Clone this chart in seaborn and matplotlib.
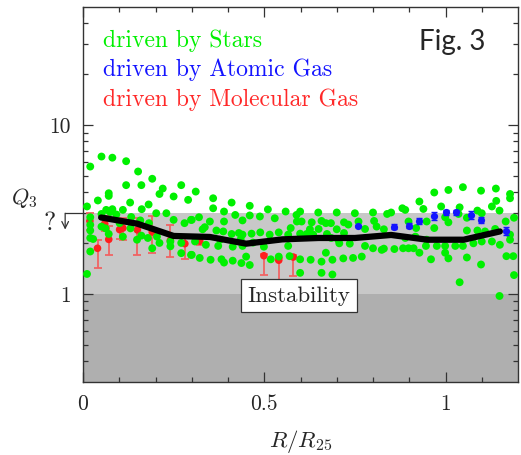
import numpy as np
import pandas as pd
import matplotlib
matplotlib.use("Agg")
import matplotlib.pyplot as plt
import matplotlib.transforms as mtransforms
from matplotlib.ticker import FixedLocator, FixedFormatter, NullFormatter
import seaborn as sns


# values (R/R25, Q3)

stars_r = [0.020, 0.051, 0.081, 0.119, 0.152, 0.191, 0.220, 0.211, 0.271, 0.250,
           0.290, 0.119, 0.161, 0.071, 0.071, 0.041, 0.130, 0.162, 0.181, 0.011,
           0.110, 0.230, 0.202, 0.250, 0.020, 0.020, 0.020, 0.020, 0.020, 0.011,
           0.051, 0.064, 0.081, 0.092, 0.101, 0.051, 0.062, 0.071, 0.028, 0.110,
           0.131, 0.133, 0.158, 0.149, 0.161, 0.179, 0.182, 0.191, 0.204, 0.211,
           0.241, 0.241, 0.271, 0.271, 0.280, 0.298, 0.298, 0.075,
           0.311, 0.359, 0.359, 0.410, 0.460, 0.460, 0.510, 0.488, 0.389, 0.389,
           0.420, 0.440, 0.320, 0.300, 0.350, 0.336, 0.330, 0.368, 0.387, 0.410,
           0.430, 0.440, 0.465, 0.489, 0.515, 0.540, 0.566, 0.309, 0.339, 0.373,
           0.378, 0.413, 0.435, 0.440, 0.469, 0.499, 0.300, 0.322, 0.352, 0.382,
           0.389, 0.413, 0.437, 0.460, 0.450, 0.518, 0.540, 0.570, 0.566, 0.529,
           0.559, 0.589, 0.573, 0.590,
           0.599, 0.649, 0.700, 0.750, 0.800, 0.839, 0.850, 0.881, 0.603, 0.631,
           0.658, 0.670, 0.684, 0.720, 0.732, 0.760, 0.803, 0.810, 0.778, 0.830,
           0.626, 0.650, 0.700, 0.720, 0.599, 0.617, 0.635, 0.673, 0.685, 0.704,
           0.707, 0.736, 0.778, 0.800, 0.824, 0.830, 0.859, 0.883, 0.769, 0.745,
           0.718, 0.670, 0.599, 0.628, 0.658, 0.688, 0.599, 0.658, 0.688,
           0.969, 1.008, 1.048, 1.098, 1.139, 1.178, 1.178, 0.928, 0.939, 0.988,
           1.039, 1.088, 1.128, 1.140, 0.889, 1.149, 1.100, 0.999, 1.036, 1.059,
           0.898, 0.948, 1.008, 0.919, 0.969, 1.166, 1.189, 1.059, 1.088, 1.109,
           1.137, 1.178, 0.889, 0.917, 0.948, 0.976, 0.999, 1.027, 1.048, 1.077,
           1.100, 1.128, 1.150, 1.178, 0.898, 0.928, 0.912, 0.946, 0.999, 1.008,
           0.960, 1.168, 1.187, 1.059, 1.098, 1.039, 1.149, 1.189]

stars_q = [5.67, 6.50, 6.40, 6.10, 5.30, 4.80, 4.20, 3.90, 4.40, 3.77,
           3.60, 4.40, 4.40, 3.94, 3.80, 3.57, 3.47, 3.17, 3.38, 3.29,
           3.14, 3.00, 3.00, 2.74, 2.84, 2.56, 2.37, 2.14, 1.78, 1.31,
           2.97, 3.14, 3.17, 2.95, 2.62, 2.50, 2.44, 2.26, 2.11, 2.18,
           2.44, 2.85, 2.72, 2.09, 2.21, 2.14, 2.62, 1.86, 2.18, 2.00,
           1.91, 2.04, 1.74, 2.00, 2.62, 2.74, 1.70, 3.05,
           4.03, 3.68, 3.21, 3.47, 3.32, 2.91, 3.16, 2.87, 3.07, 2.68,
           2.93, 2.72, 2.84, 2.74, 2.68, 2.48, 2.41, 2.37, 2.34, 2.26,
           2.29, 2.24, 2.27, 2.31, 2.24, 2.31, 2.24, 2.04, 1.95, 1.92,
           2.09, 1.90, 2.10, 1.92, 2.01, 1.90, 1.70, 1.63, 1.59, 1.60,
           1.53, 1.57, 1.52, 1.48, 1.66, 1.60, 1.66, 1.67, 1.92, 2.80,
           3.07, 2.93, 2.45, 2.68,
           3.07, 3.03, 3.03, 3.00, 3.03, 2.97, 3.03, 3.21, 2.68, 2.65,
           2.70, 2.62, 2.62, 2.65, 2.57, 2.68, 2.70, 2.50, 2.42, 2.41,
           2.41, 2.42, 2.41, 2.29, 2.27, 2.26, 2.24, 2.26, 2.14, 2.09,
           1.99, 1.98, 1.92, 1.86, 1.82, 1.85, 1.84, 1.86, 1.66, 1.63,
           1.62, 1.75, 1.60, 1.59, 1.55, 1.59, 1.33, 1.33, 1.30,
           3.98, 4.12, 4.28, 4.08, 4.20, 3.90, 3.68, 3.52, 3.18, 3.29,
           3.25, 3.11, 3.29, 3.55, 3.14, 3.11, 3.00, 2.84, 2.97, 2.82,
           2.68, 2.68, 2.65, 2.45, 2.45, 2.68, 2.82, 2.37, 2.37, 2.34,
           2.42, 2.24, 2.14, 2.18, 2.09, 1.92, 1.92, 1.92, 1.92, 1.99,
           2.04, 2.04, 1.95, 2.09, 1.86, 1.75, 1.86, 1.92, 1.75, 1.62,
           1.60, 1.67, 1.67, 1.64, 1.49, 1.17, 0.97, 1.29]

atomic_r = [0.759, 0.859, 0.898, 0.928, 0.967, 1.000, 1.028, 1.069, 1.098, 1.167]
atomic_q = [2.52, 2.50, 2.53, 2.70, 2.90, 3.04, 3.04, 2.93, 2.74, 2.36]
atomic_err = [0.05, 0.08, 0.08, 0.10, 0.15, 0.10, 0.10, 0.15, 0.10, 0.12]

mol_r = [0.019, 0.040, 0.060, 0.071, 0.101, 0.110, 0.150, 0.191, 0.241, 0.281,
         0.322, 0.499, 0.540, 0.580]
mol_q = [2.70, 1.86, 2.60, 2.10, 2.40, 2.45, 2.39, 2.32, 2.07, 1.98,
         2.05, 1.68, 1.58, 1.65]
mol_lo = [2.39, 1.43, 2.34, 1.70, 2.11, 2.09, 1.70, 1.74, 1.66, 1.60,
          1.95, 1.30, 1.21, 1.28]
mol_hi = [3.00, 2.09, 2.87, 2.52, 2.74, 2.80, 2.82, 2.90, 2.56, 2.20,
          2.15, 1.72, 1.62, 1.69]

median_r = [0.05, 0.15, 0.25, 0.35, 0.45, 0.55, 0.65, 0.75, 0.85, 0.95, 1.05, 1.15]
median_q = [2.83, 2.60, 2.20, 2.17, 1.98, 2.10, 2.14, 2.14, 2.23, 2.09, 2.09, 2.34]

stars = pd.DataFrame({"r": stars_r, "q": stars_q})
mol = pd.DataFrame({"r": mol_r, "q": mol_q, "lo": mol_lo, "hi": mol_hi})
median = pd.DataFrame({"r": median_r, "q": median_q})


sns.set_theme(style="ticks")
plt.rcParams["font.family"] = ["cmr10", "DejaVu Serif"]
plt.rcParams["mathtext.fontset"] = "cm"
plt.rcParams["axes.formatter.use_mathtext"] = True
plt.rcParams["axes.unicode_minus"] = False

fig = plt.figure(figsize=(5.21, 4.55), dpi=100)
ax = fig.add_axes([83 / 521, 73 / 455, 435 / 521, 375 / 455])

# stability regions
ax.axhspan(0.3, 1, color="#afafaf", zorder=0, lw=0)
ax.axhspan(1, 3, color="#c8c8c8", zorder=0, lw=0)

# molecular gas
ax.errorbar(mol["r"], mol["q"], yerr=[mol["q"] - mol["lo"], mol["hi"] - mol["q"]],
            fmt="none", ecolor="#f06464", elinewidth=1.3, capsize=3, capthick=1.3, zorder=2)
sns.scatterplot(data=mol, x="r", y="q", color="#ff1e1e", s=30, edgecolor="none",
                legend=False, ax=ax, zorder=2.5)

# stars
sns.scatterplot(data=stars, x="r", y="q", color="#00f000", s=32, edgecolor="none",
                legend=False, ax=ax, zorder=3)

# atomic gas
ax.errorbar(atomic_r, atomic_q, yerr=atomic_err, fmt="o", color="#1414ff", ms=5.2,
            mec="none", elinewidth=1, capsize=2.5, zorder=4)

# running median
sns.lineplot(data=median, x="r", y="q", color="black", lw=4.5, ax=ax, zorder=5)

ax.set_yscale("log")
ax.set_xlim(0, 1.2)
ax.set_ylim(0.3, 50)

ax.xaxis.set_major_locator(FixedLocator([0, 0.5, 1]))
ax.xaxis.set_major_formatter(FixedFormatter(["0", "0.5", "1"]))
ax.xaxis.set_minor_locator(FixedLocator(np.arange(0.1, 1.2, 0.1)))
ax.yaxis.set_major_locator(FixedLocator([1, 10]))
ax.yaxis.set_major_formatter(FixedFormatter(["1", "10"]))
ax.yaxis.set_minor_locator(FixedLocator([0.4, 0.5, 0.6, 0.7, 0.8, 0.9,
                                         2, 3, 4, 5, 6, 7, 8, 9, 20, 30, 40]))
ax.yaxis.set_minor_formatter(NullFormatter())
ax.tick_params(which="both", direction="in", top=True, right=True,
               color="#333333", width=0.9)
ax.tick_params(which="major", length=7, labelsize=15.5, pad=9)
ax.tick_params(which="minor", length=3.5)
for s in ax.spines.values():
    s.set_color("#333333")
    s.set_linewidth(1)

ax.set_xlabel("$R/R_{25}$", fontsize=16.5, labelpad=10)
ax.set_ylabel("")

trans = mtransforms.blended_transform_factory(ax.transAxes, ax.transData)
ax.text(-0.135, 3.7, "$Q_3$", transform=trans, fontsize=16, ha="center", va="center")
ax.text(-0.076, 2.62, "?", transform=trans, fontsize=18.5, ha="center", va="center")
ax.plot([-0.041, 0], [3, 3], transform=trans, clip_on=False, color="#333333", lw=0.9)
ax.annotate("", xy=(-0.041, 2.40), xytext=(-0.041, 3.0), xycoords=trans, textcoords=trans,
            arrowprops=dict(arrowstyle="->", lw=0.9, color="#333333", shrinkA=0, shrinkB=0))

ax.text(0.046, 0.909, "driven by Stars", transform=ax.transAxes, color="#00f000",
        fontsize=17, va="center")
ax.text(0.046, 0.832, "driven by Atomic Gas", transform=ax.transAxes, color="#1414ff",
        fontsize=17, va="center")
ax.text(0.046, 0.752, "driven by Molecular Gas", transform=ax.transAxes, color="#ff2828",
        fontsize=17, va="center")
ax.text(0.848, 0.907, "Fig. 3", transform=ax.transAxes, fontsize=20, family="Lato",
        ha="center", va="center")

ax.text(0.596, 0.973, "Instability", fontsize=16.5, ha="center", va="center", zorder=6,
        bbox=dict(boxstyle="square,pad=0.3", fc="white", ec="#333333", lw=0.9))

fig.savefig("out.png", dpi=100)
